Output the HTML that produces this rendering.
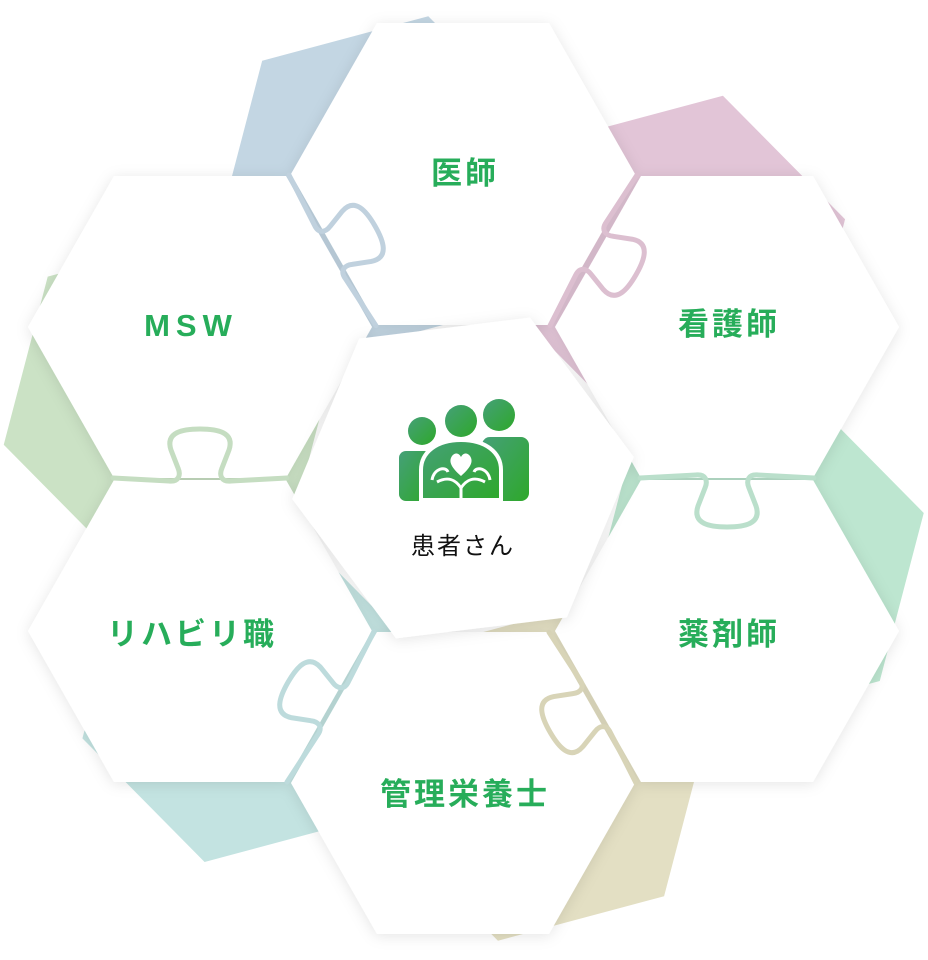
<!DOCTYPE html>
<html><head><meta charset="utf-8"><style>
html,body{margin:0;padding:0;background:#fff;width:928px;height:960px;overflow:hidden;}
svg{display:block;}
.lb{font-family:"Liberation Sans","Noto Sans CJK JP",sans-serif;font-weight:bold;font-size:31px;fill:#27ad5a;letter-spacing:3px;}
</style></head><body>
<svg width="928" height="960" viewBox="0 0 928 960" xmlns="http://www.w3.org/2000/svg">
<defs>
<polygon id="hx" points="172,0 86,151 -86,151 -172,0 -86,-151 86,-151"/>
<filter id="sh" x="-20%" y="-20%" width="140%" height="140%">
<feDropShadow dx="0" dy="2" stdDeviation="7" flood-color="#000" flood-opacity="0.10"/>
</filter>
<linearGradient id="gg" x1="0" y1="0" x2="1" y2="1">
<stop offset="0" stop-color="#45a078"/><stop offset="1" stop-color="#2ea82a"/>
</linearGradient>
<path id="kn" d="M0,0 L56,3 C66,4 68,-3 65,-10 L58,-28 C52,-46 70,-49 87,-49 C104,-49 122,-46 116,-28 L109,-10 C106,-3 108,4 118,3 L174,0" fill="none" stroke-width="5" stroke-linecap="round" stroke-linejoin="round"/>
</defs>

<g transform="rotate(-15 463 478)">
<use href="#hx" x="463" y="174" fill="#c3d6e3"/>
<use href="#hx" x="727" y="327" fill="#e2c5d7"/>
<use href="#hx" x="727" y="631" fill="#bde6d0"/>
<use href="#hx" x="463" y="783" fill="#e3dfc3"/>
<use href="#hx" x="200" y="631" fill="#c3e3e1"/>
<use href="#hx" x="200" y="327" fill="#cbe2c5"/>
</g>

<g filter="url(#sh)" fill="#fff">
<use href="#hx" x="463" y="174"/>
<use href="#hx" x="727" y="327"/>
<use href="#hx" x="727" y="631"/>
<use href="#hx" x="463" y="783"/>
<use href="#hx" x="200" y="631"/>
<use href="#hx" x="200" y="327"/>
</g>

<use href="#kn" transform="translate(289,175) rotate(60)" stroke="#c0d1de"/>
<use href="#kn" transform="translate(637,175) rotate(120)" stroke="#dcbfd0"/>
<use href="#kn" transform="translate(113,478)" stroke="#c5ddc1"/>
<use href="#kn" transform="translate(814,478) rotate(180)" stroke="#badfcb"/>
<use href="#kn" transform="translate(287,782) rotate(-60)" stroke="#bddbdc"/>
<use href="#kn" transform="translate(636,783) rotate(240)" stroke="#d8d4b7"/>

<g filter="url(#sh)"><use href="#hx" x="463" y="478" fill="#fff" transform="rotate(-7 463 478)"/></g>

<g fill="url(#gg)">
<circle cx="422" cy="431" r="14"/>
<circle cx="499" cy="415" r="16"/>
<rect x="399" y="451" width="32" height="50" rx="7"/>
<rect x="482" y="437" width="47" height="64" rx="8"/>
</g>
<circle cx="461" cy="421" r="16" fill="url(#gg)"/>
<path d="M421,500 L421,470 C421,452 437,440 461,440 C485,440 501,452 501,470 L501,500 Z" fill="url(#gg)" stroke="#fff" stroke-width="4"/>
<path d="M432,480 C434,468 446,466 448,472 M490,480 C488,468 476,466 474,472" stroke="#fff" stroke-width="3" fill="none"/>
<path d="M437,482 C448,476 456,480 461,488 C466,480 474,476 485,482" stroke="#fff" stroke-width="3" fill="none"/>
<path d="M461,498 L461,488" stroke="#fff" stroke-width="3"/>
<path d="M461,476 C452,468 448,462 452,456 C455,452 459,453 461,457 C463,453 467,452 470,456 C474,462 470,468 461,476 Z" fill="#fff"/>

<text x="463" y="554" text-anchor="middle" font-family="Liberation Sans,'Noto Sans CJK JP',sans-serif" font-size="24" fill="#111" letter-spacing="2">患者さん</text>

<text class="lb" x="465" y="184" text-anchor="middle">医師</text>
<text class="lb" x="729" y="335" text-anchor="middle">看護師</text>
<text class="lb" x="729" y="645" text-anchor="middle">薬剤師</text>
<text class="lb" x="465" y="805" text-anchor="middle">管理栄養士</text>
<text class="lb" x="192" y="645" text-anchor="middle">リハビリ職</text>
<text class="lb" x="191" y="336" text-anchor="middle" style="letter-spacing:6px">MSW</text>
</svg>
</body></html>
